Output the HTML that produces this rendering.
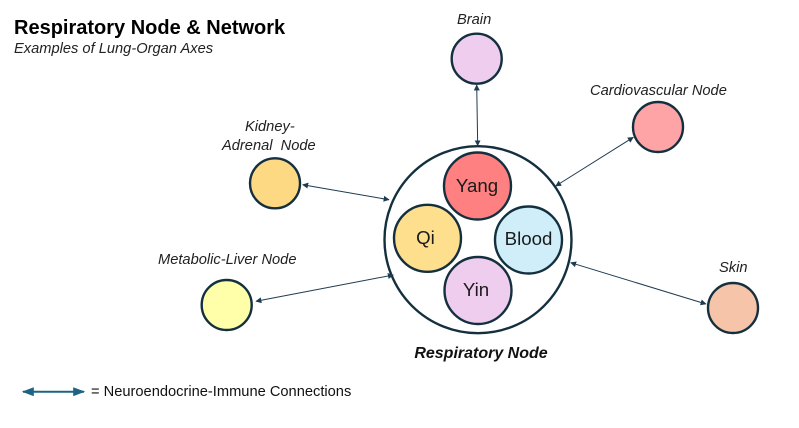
<!DOCTYPE html>
<html>
<head>
<meta charset="utf-8">
<style>
html,body{margin:0;padding:0;background:#fff;width:799px;height:428px;overflow:hidden}
svg{display:block}
text{font-family:"Liberation Sans",Arial,sans-serif;fill:#111}
.l{font-style:italic;font-size:14.67px;fill:#222}
.c{font-size:18.67px;text-anchor:middle;fill:#1a1a1a}
.n{stroke:#14303f;stroke-width:2.4}
.a{stroke:#1f3b50;stroke-width:1;fill:none;marker-start:url(#m);marker-end:url(#m)}
</style>
</head>
<body>
<svg width="799" height="428" viewBox="0 0 799 428" xmlns="http://www.w3.org/2000/svg">
<defs>
<marker id="m" viewBox="0 0 10 10" refX="9" refY="5" markerWidth="6" markerHeight="6" markerUnits="userSpaceOnUse" orient="auto-start-reverse"><path d="M0 0L10 5L0 10Z" fill="#1f3b50"/></marker>
<marker id="g" viewBox="0 0 10 10" refX="9" refY="5" markerWidth="12" markerHeight="9" markerUnits="userSpaceOnUse" orient="auto-start-reverse" preserveAspectRatio="none"><path d="M0 0L10 5L0 10Z" fill="#1f6384"/></marker>
</defs>

<text x="14" y="34" font-size="20" font-weight="bold" fill="#000" style="fill:#000">Respiratory Node &amp; Network</text>
<text x="14" y="53" class="l">Examples of Lung-Organ Axes</text>

<circle cx="478" cy="239.7" r="93.5" fill="#fff" stroke="#14303f" stroke-width="2.4"/>
<circle class="n" cx="477.5" cy="186" r="33.5" fill="#fe8080"/>
<circle class="n" cx="427.5" cy="238.3" r="33.5" fill="#fedf8e"/>
<circle class="n" cx="528.5" cy="240" r="33.5" fill="#cfeefa"/>
<circle class="n" cx="478" cy="290.5" r="33.5" fill="#efcdee"/>
<text class="c" x="477" y="192">Yang</text>
<text class="c" x="425.5" y="244">Qi</text>
<text class="c" x="528.5" y="245">Blood</text>
<text class="c" x="476" y="296">Yin</text>
<text x="481" y="358" font-size="16" font-weight="bold" font-style="italic" text-anchor="middle" style="fill:#111">Respiratory Node</text>

<circle class="n" cx="476.7" cy="58.7" r="25" fill="#efcdee"/>
<circle class="n" cx="658" cy="127" r="25" fill="#fea3a6"/>
<circle class="n" cx="275" cy="183.3" r="25" fill="#fed983"/>
<circle class="n" cx="226.7" cy="305" r="25" fill="#feffa8"/>
<circle class="n" cx="733" cy="308" r="25" fill="#f6c4a8"/>

<text class="l" x="457" y="24">Brain</text>
<text class="l" x="590" y="95">Cardiovascular Node</text>
<text class="l" x="245" y="131">Kidney-</text>
<text class="l" x="222" y="150" xml:space="preserve">Adrenal  Node</text>
<text class="l" x="158" y="264">Metabolic-Liver Node</text>
<text class="l" x="719" y="272">Skin</text>

<line class="a" x1="476.7" y1="85" x2="477.7" y2="145.7"/>
<line class="a" x1="633.3" y1="137.3" x2="555.7" y2="186"/>
<line class="a" x1="302.7" y1="184.7" x2="389" y2="199.7"/>
<line class="a" x1="256" y1="301.3" x2="393.3" y2="275"/>
<line class="a" x1="570.7" y1="262.7" x2="706" y2="304"/>

<line x1="23" y1="391.7" x2="84" y2="391.7" stroke="#1f6384" stroke-width="2" marker-start="url(#g)" marker-end="url(#g)"/>
<text x="91" y="396" font-size="14.67" style="fill:#111">= Neuroendocrine-Immune Connections</text>
</svg>
</body>
</html>
